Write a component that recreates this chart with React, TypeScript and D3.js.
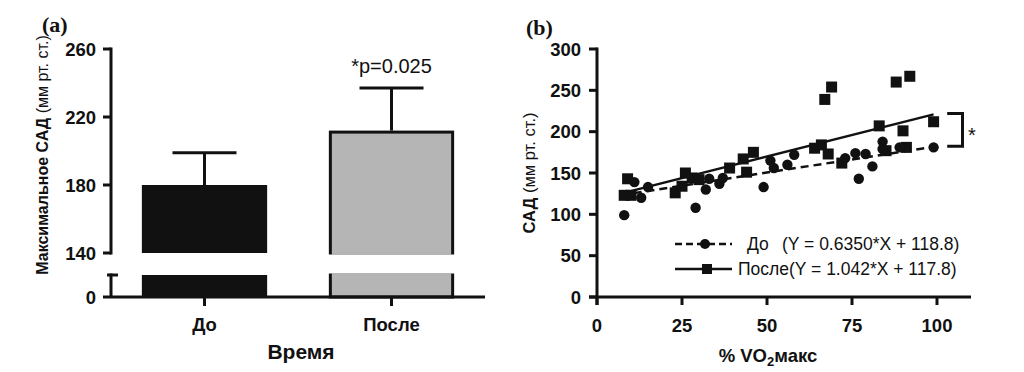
import * as d3 from "d3";
import React from "react";

// panel (a): bar chart with broken axis
const groups = ["До", "После"];
const groupMeans = [180, 212];
const groupSD = [19, 25];
const groupColors = ["#111111", "#b5b5b5"];
const upperTicks = [140, 180, 220, 260];

// panel (b): scatter + regression
const beforePoints: [number, number][] = [
  [8, 99], [11, 139], [13, 120], [15, 133], [29, 108], [32, 130], [33, 143],
  [36, 137], [37, 144], [49, 133], [51, 165], [52, 156], [56, 160], [58, 172],
  [73, 168], [76, 174], [77, 143], [79, 173], [81, 158], [84, 188], [84, 179],
  [89, 181], [99, 181],
];
const afterPoints: [number, number][] = [
  [8, 123], [10, 123], [9, 143], [23, 126], [25, 134], [26, 150], [28, 144],
  [30, 142], [39, 156], [43, 167], [44, 151], [46, 175], [64, 180], [66, 184],
  [67, 239], [68, 173], [69, 254], [72, 162], [83, 207], [85, 177], [88, 260],
  [90, 201], [91, 181], [92, 267], [99, 212],
];
const fitBefore = { slope: 0.635, intercept: 118.8, label: "До", eq: "(Y = 0.6350*X + 118.8)" };
const fitAfter = { slope: 1.042, intercept: 117.8, label: "После", eq: "(Y = 1.042*X + 117.8)" };
const fitRange = [7, 99];
const xTicksB = [0, 25, 50, 75, 100];
const yTicksB = [0, 50, 100, 150, 200, 250, 300];

const INK = "#111111";
const SANS = "Arial, 'Liberation Sans', sans-serif";
const SERIF = "'Liberation Serif', 'Times New Roman', serif";

const App: React.FC = () => {
  // ---- panel (a) scales
  const yUpper = d3.scaleLinear().domain([140, 260]).range([253, 49]);
  const yLower = d3.scaleLinear().domain([0, 13]).range([297, 275]);
  const xA = d3
    .scaleBand<string>()
    .domain(groups)
    .range([111, 485])
    .paddingInner(0.33)
    .paddingOuter(0.165);
  const axA = 111;

  // ---- panel (b) scales
  const xB = d3.scaleLinear().domain([0, 110]).range([597, 971]);
  const yB = d3.scaleLinear().domain([0, 300]).range([297, 49]);
  const line = d3
    .line<[number, number]>()
    .x((d) => xB(d[0]))
    .y((d) => yB(d[1]));
  const fitLine = (f: { slope: number; intercept: number }) =>
    line(fitRange.map((x) => [x, f.slope * x + f.intercept] as [number, number])) || "";

  const bracketX = xB(107.5);
  const armX = xB(103);
  const topY = yB(fitAfter.slope * 100 + fitAfter.intercept);
  const botY = yB(fitBefore.slope * 100 + fitBefore.intercept);

  return (
    <svg
      width={1024}
      height={372}
      style={{ position: "absolute", left: 0, top: 0, background: "#fff" }}
      fontFamily={SANS}
    >
      {/* ================= panel (a) ================= */}
      <text x={42} y={32} fontFamily={SERIF} fontWeight="bold" fontSize={22} fill={INK}>
        (a)
      </text>
      <text
        transform={`translate(48,155) rotate(-90)`}
        textAnchor="middle"
        fontSize={16}
        fill={INK}
      >
        <tspan fontWeight="bold">Максимальное САД </tspan>
        <tspan>(мм рт. ст.)</tspan>
      </text>

      {/* bars (upper and lower segments) */}
      {groups.map((g, i) => {
        const x0 = xA(g) || 0;
        const w = xA.bandwidth();
        const cx = x0 + w / 2;
        const top = yUpper(groupMeans[i]);
        const errTop = yUpper(groupMeans[i] + groupSD[i]);
        const sw = i === 0 ? 0 : 3;
        return (
          <g key={g}>
            <line x1={cx} x2={cx} y1={top} y2={errTop} stroke={INK} strokeWidth={3} />
            <line x1={cx - 32} x2={cx + 32} y1={errTop} y2={errTop} stroke={INK} strokeWidth={3} />
            <rect
              x={x0 + sw / 2}
              y={top + sw / 2}
              width={w - sw}
              height={yUpper(140) - top - sw / 2}
              fill={groupColors[i]}
              stroke={INK}
              strokeWidth={sw}
            />
            {i > 0 && (
              <rect x={x0 + sw / 2 + 1.5} y={yUpper(140) - 2} width={w - sw - 3} height={4} fill={groupColors[i]} />
            )}
            <rect
              x={x0 + sw / 2}
              y={yLower(13)}
              width={w - sw}
              height={yLower(0) - yLower(13)}
              fill={groupColors[i]}
              stroke={INK}
              strokeWidth={sw}
            />
            {i > 0 && (
              <rect x={x0 + sw / 2 + 1.5} y={yLower(13) - 2} width={w - sw - 3} height={4} fill={groupColors[i]} />
            )}
            <line x1={cx} x2={cx} y1={yLower(0)} y2={yLower(0) + 9} stroke={INK} strokeWidth={3} />
            <text x={cx} y={331} textAnchor="middle" fontWeight="bold" fontSize={18.5} fill={INK}>
              {g}
            </text>
          </g>
        );
      })}
      <text x={(xA("После") || 0) + xA.bandwidth() / 2} y={73} textAnchor="middle" fontSize={20} fill={INK}>
        *p=0.025
      </text>

      {/* y axis (a) upper */}
      <line x1={axA} x2={axA} y1={yUpper(260) - 1.5} y2={yUpper(140) + 1.5} stroke={INK} strokeWidth={3} />
      {upperTicks.map((t) => (
        <g key={t}>
          <line x1={axA - 8} x2={axA} y1={yUpper(t)} y2={yUpper(t)} stroke={INK} strokeWidth={3} />
          <text x={96} y={yUpper(t)} dy="0.36em" textAnchor="end" fontWeight="bold" fontSize={18.5} fill={INK}>
            {t}
          </text>
        </g>
      ))}
      {/* y axis (a) lower */}
      <line x1={axA} x2={axA} y1={yLower(13) - 1.5} y2={yLower(0)} stroke={INK} strokeWidth={3} />
      <line x1={axA - 4} x2={axA + 7} y1={yLower(13)} y2={yLower(13)} stroke={INK} strokeWidth={3} />
      <line x1={axA - 8} x2={485} y1={yLower(0)} y2={yLower(0)} stroke={INK} strokeWidth={3} />
      <text x={96} y={yLower(0)} dy="0.36em" textAnchor="end" fontWeight="bold" fontSize={18.5} fill={INK}>
        0
      </text>
      <text x={301} y={359} textAnchor="middle" fontWeight="bold" fontSize={21} fill={INK}>
        Время
      </text>

      {/* ================= panel (b) ================= */}
      <text x={526} y={35} fontFamily={SERIF} fontWeight="bold" fontSize={22} fill={INK}>
        (b)
      </text>
      <text transform={`translate(535,173) rotate(-90)`} textAnchor="middle" fontSize={16.5} fill={INK}>
        <tspan fontWeight="bold">САД </tspan>
        <tspan>(мм рт. ст.)</tspan>
      </text>

      {/* axes */}
      <line x1={xB(0)} x2={xB(0)} y1={yB(300) - 1.5} y2={yB(0) + 8} stroke={INK} strokeWidth={3} />
      <line x1={xB(0) - 8} x2={xB(110)} y1={yB(0)} y2={yB(0)} stroke={INK} strokeWidth={3} />
      {yTicksB.map((t) => (
        <g key={t}>
          <line x1={xB(0) - 8} x2={xB(0)} y1={yB(t)} y2={yB(t)} stroke={INK} strokeWidth={3} />
          <text x={581} y={yB(t)} dy="0.36em" textAnchor="end" fontWeight="bold" fontSize={18.5} fill={INK}>
            {t}
          </text>
        </g>
      ))}
      {xTicksB.map((t) => (
        <g key={t}>
          <line x1={xB(t)} x2={xB(t)} y1={yB(0)} y2={yB(0) + 8} stroke={INK} strokeWidth={3} />
          <text x={xB(t)} y={332} textAnchor="middle" fontWeight="bold" fontSize={18.5} fill={INK}>
            {t}
          </text>
        </g>
      ))}
      <text x={768} y={362} textAnchor="middle" fontWeight="bold" fontSize={18.5} fill={INK}>
        % VO<tspan fontSize={13} dy={4}>2</tspan>
        <tspan dy={-4}>макс</tspan>
      </text>

      {/* regression lines */}
      <path d={fitLine(fitBefore)} fill="none" stroke={INK} strokeWidth={2.5} strokeDasharray="8 5" />
      <path d={fitLine(fitAfter)} fill="none" stroke={INK} strokeWidth={2.5} />

      {/* points */}
      {afterPoints.map((p, i) => (
        <rect key={`a${i}`} x={xB(p[0]) - 5.5} y={yB(p[1]) - 5.5} width={11} height={11} fill={INK} />
      ))}
      {beforePoints.map((p, i) => (
        <circle key={`b${i}`} cx={xB(p[0])} cy={yB(p[1])} r={5.2} fill={INK} />
      ))}

      {/* significance bracket */}
      <path
        d={`M${armX},${topY} H${bracketX} V${botY} H${armX}`}
        fill="none"
        stroke={INK}
        strokeWidth={3}
      />
      <text x={968} y={142} fontSize={20} fill={INK}>
        *
      </text>

      {/* legend */}
      <g>
        <line x1={675} x2={732} y1={244} y2={244} stroke={INK} strokeWidth={2.5} strokeDasharray="7 4" />
        <circle cx={705} cy={244} r={5} fill={INK} />
        <text x={747} y={244} dy="0.36em" fontSize={17.5} fill={INK}>
          {fitBefore.label}
        </text>
        <text x={782} y={244} dy="0.36em" fontSize={17.5} fill={INK}>
          {fitBefore.eq}
        </text>
        <line x1={675} x2={732} y1={269} y2={269} stroke={INK} strokeWidth={2.5} />
        <rect x={702} y={264} width={10} height={10} fill={INK} />
        <text x={738} y={269} dy="0.36em" fontSize={17.5} fill={INK}>
          {fitAfter.label + fitAfter.eq}
        </text>
      </g>
    </svg>
  );
};

export default App;
